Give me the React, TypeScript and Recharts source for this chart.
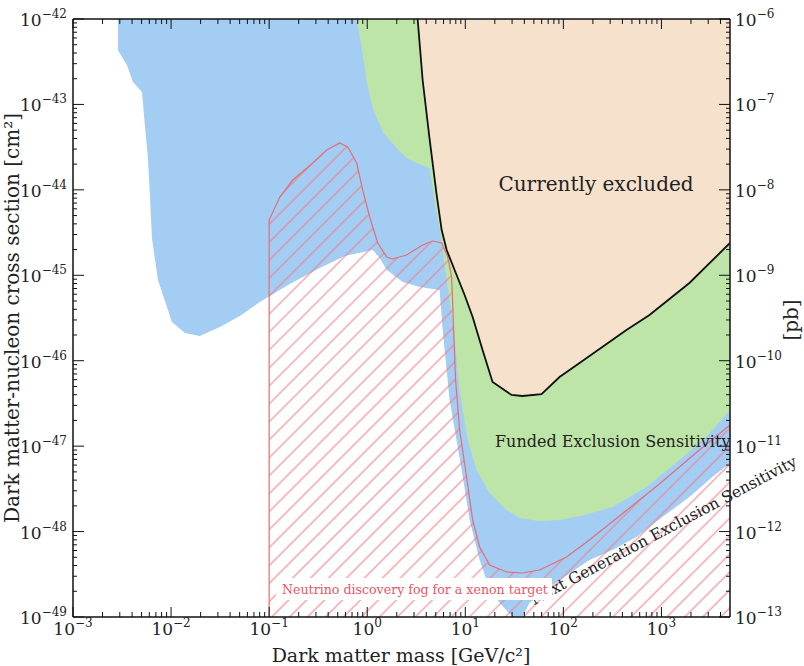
import { Area, ComposedChart, XAxis, YAxis } from "recharts";

const W = 804;
const H = 666;
const FONT = '"DejaVu Serif", serif';

// every curve is a list of [log10(mass / GeV), log10(sigma / cm^2)]
const nextGenSensitivity: [number, number][] = [
  [-2.542, -42.363], [-2.45, -42.538], [-2.389, -42.737], [-2.297, -42.854], [-2.267, -43.241],
  [-2.236, -43.627], [-2.216, -44.06], [-2.195, -44.563], [-2.134, -45.055], [-2.083, -45.231],
  [-1.992, -45.547], [-1.859, -45.676], [-1.706, -45.711], [-1.503, -45.605], [-1.299, -45.476],
  [-1.095, -45.313], [-0.79, -45.102], [-0.484, -44.915], [-0.229, -44.774], [0.056, -44.704],
  [0.127, -44.798], [0.199, -44.938], [0.362, -45.079], [0.535, -45.137], [0.738, -45.172],
  [0.769, -45.64], [0.84, -46.459], [0.963, -47.279], [1.044, -47.864], [1.146, -48.332],
  [1.217, -48.567], [1.35, -48.836], [1.482, -49.0], [1.58, -49.0], [1.655, -48.836],
  [1.859, -48.649], [2.266, -48.332], [2.501, -48.216], [2.745, -48.063], [3.01, -47.829],
  [3.285, -47.595], [3.519, -47.361], [3.699, -47.197],
];

const fundedSensitivity: [number, number][] = [
  [-0.107, -42.0], [-0.056, -42.339], [-0.005, -42.737], [0.056, -43.042], [0.158, -43.323],
  [0.3, -43.51], [0.402, -43.627], [0.504, -43.686], [0.637, -43.744], [0.708, -44.271],
  [0.759, -44.587], [0.81, -45.055], [0.861, -45.441], [0.891, -45.758], [0.942, -46.343],
  [1.024, -46.928], [1.115, -47.279], [1.248, -47.548], [1.421, -47.747], [1.553, -47.841],
  [1.757, -47.876], [1.961, -47.864], [2.215, -47.806], [2.501, -47.712], [2.847, -47.478],
  [3.183, -47.162], [3.458, -46.893], [3.699, -46.577],
];

const currentLimit: [number, number][] = [
  [0.514, -42.0], [0.565, -42.714], [0.637, -43.416], [0.708, -44.06], [0.759, -44.47],
  [0.81, -44.704], [0.891, -44.938], [0.993, -45.231], [1.075, -45.488], [1.176, -45.875],
  [1.278, -46.249], [1.472, -46.401], [1.584, -46.413], [1.777, -46.39], [1.961, -46.191],
  [2.165, -46.027], [2.643, -45.64], [2.878, -45.465], [3.285, -45.09], [3.699, -44.622],
];

const neutrinoFog: [number, number][] = [
  [-1, -49], [-1, -44.353], [-0.891, -44.084], [-0.759, -43.885], [-0.555, -43.686],
  [-0.413, -43.533], [-0.28, -43.452], [-0.199, -43.498], [-0.107, -43.686], [-0.046, -44.002],
  [0.025, -44.318], [0.107, -44.622], [0.199, -44.786], [0.26, -44.809], [0.402, -44.762],
  [0.565, -44.645], [0.667, -44.599], [0.759, -44.622], [0.82, -44.786], [0.861, -45.02],
  [0.871, -45.324], [0.881, -45.64], [0.901, -46.226], [0.942, -46.811], [1.003, -47.279],
  [1.075, -47.864], [1.146, -48.18], [1.248, -48.391], [1.421, -48.473], [1.584, -48.485],
  [1.757, -48.45], [2.032, -48.298], [2.266, -48.099], [2.572, -47.818], [2.979, -47.443],
  [3.387, -47.045], [3.699, -46.753],
];

const X_MIN = -3;
const X_MAX = Math.log10(5000);
const Y_MIN = -49;
const Y_MAX = -42;
const xDecades = [-3, -2, -1, 0, 1, 2, 3];
const yDecades = [-49, -48, -47, -46, -45, -44, -43, -42];
const PB_SHIFT = 36; // 1 pb = 1e-36 cm^2

const minorTicks = (from: number, to: number) => {
  const out: number[] = [];
  for (let n = from; n < to; n++) {
    for (let k = 2; k <= 9; k++) {
      const v = n + Math.log10(k);
      if (v < to - 1e-6) out.push(v);
    }
  }
  return out;
};
const xTicks = [...xDecades, ...minorTicks(X_MIN, X_MAX)].sort((a, b) => a - b);
const yTicks = [...yDecades, ...minorTicks(Y_MIN, Y_MAX)].sort((a, b) => a - b);

type Row = { x: number; nextGen?: number; funded?: number; current?: number; fog?: number };
const rows: Row[] = [];
const series: Record<string, [number, number][]> = {
  nextGen: nextGenSensitivity,
  funded: fundedSensitivity,
  current: currentLimit,
  fog: neutrinoFog,
};
Object.entries(series).forEach(([key, pts]) => pts.forEach(([x, y]) => rows.push({ x, [key]: y })));
rows.sort((a, b) => a.x - b.x);

const isDecade = (v: number) => Math.abs(v - Math.round(v)) < 1e-6;
const expText = (n: number) => String(n).replace("-", "\u2212");

function BottomTick({ x, y, payload }: any) {
  const major = isDecade(payload.value);
  return (
    <g>
      <line x1={x} x2={x} y1={y} y2={y - (major ? 10 : 5)} stroke="#111" />
      {major && (
        <text x={x} y={y + 18} textAnchor="middle" fontFamily={FONT} fontSize={17} fill="#222">
          10<tspan dy={-8} fontSize={12}>{expText(Math.round(payload.value))}</tspan>
        </text>
      )}
    </g>
  );
}

function TopTick({ x, y, payload }: any) {
  const major = isDecade(payload.value);
  return <line x1={x} x2={x} y1={y} y2={y + (major ? 10 : 5)} stroke="#111" />;
}

function LeftTick({ x, y, payload }: any) {
  const major = isDecade(payload.value);
  return (
    <g>
      <line x1={x} x2={x + (major ? 11 : 4)} y1={y} y2={y} stroke="#111" />
      {major && (
        <text x={x - 6} y={y + 7} textAnchor="end" fontFamily={FONT} fontSize={17} fill="#222">
          10<tspan dy={-8} fontSize={12}>{expText(Math.round(payload.value))}</tspan>
        </text>
      )}
    </g>
  );
}

function RightTick({ x, y, payload }: any) {
  const major = isDecade(payload.value);
  return (
    <g>
      <line x1={x} x2={x - (major ? 11 : 4)} y1={y} y2={y} stroke="#111" />
      {major && (
        <text x={x + 5} y={y + 7} textAnchor="start" fontFamily={FONT} fontSize={17} fill="#222">
          10<tspan dy={-8} fontSize={12}>{expText(Math.round(payload.value) + PB_SHIFT)}</tspan>
        </text>
      )}
    </g>
  );
}

const axisLine = { stroke: "#111", strokeWidth: 1.5 };

export default function App() {
  return (
    <div style={{ position: "absolute", left: 0, top: 0, width: W, height: H, background: "#fff" }}>
      <svg width={0} height={0} style={{ position: "absolute" }}>
        <defs>
          <pattern id="fogHatch" patternUnits="userSpaceOnUse" width={12.7} height={12.7} patternTransform="rotate(45)">
            <line x1={6} y1={0} x2={6} y2={12.7} stroke="#ee7a82" strokeWidth={1} />
          </pattern>
        </defs>
      </svg>
      <ComposedChart width={W} height={H} data={rows} margin={{ top: 0, right: 0, bottom: 0, left: 0 }}>
        <Area dataKey="nextGen" type="linear" baseValue={Y_MAX} fill="#a4cdf4" fillOpacity={1} stroke="none"
          connectNulls dot={false} activeDot={false} isAnimationActive={false} />
        <Area dataKey="funded" type="linear" baseValue={Y_MAX} fill="#bee5a8" fillOpacity={1} stroke="none"
          connectNulls dot={false} activeDot={false} isAnimationActive={false} />
        <Area dataKey="fog" type="linear" baseValue={Y_MIN} fill="url(#fogHatch)" fillOpacity={1} stroke="#e26d78"
          strokeWidth={1.2} connectNulls dot={false} activeDot={false} isAnimationActive={false} />
        <Area dataKey="current" type="linear" baseValue={Y_MAX} fill="#f5e1cc" fillOpacity={1} stroke="#111"
          strokeWidth={1.8} connectNulls dot={false} activeDot={false} isAnimationActive={false} />
        <XAxis dataKey="x" type="number" domain={[X_MIN, X_MAX]} allowDataOverflow ticks={xTicks} interval={0}
          height={49} tickSize={0} tickMargin={0} tickLine={false} axisLine={axisLine} tick={BottomTick} />
        <XAxis xAxisId="top" orientation="top" dataKey="x" type="number" domain={[X_MIN, X_MAX]} allowDataOverflow
          ticks={xTicks} interval={0} height={19} tickSize={0} tickMargin={0} tickLine={false} axisLine={axisLine}
          tick={TopTick} />
        <YAxis type="number" domain={[Y_MIN, Y_MAX]} allowDataOverflow ticks={yTicks} interval={0} width={73}
          tickSize={0} tickMargin={0} tickLine={false} axisLine={axisLine} tick={LeftTick} />
        <YAxis yAxisId="right" orientation="right" type="number" domain={[Y_MIN, Y_MAX]} allowDataOverflow
          ticks={yTicks} interval={0} width={74} tickSize={0} tickMargin={0} tickLine={false} axisLine={axisLine}
          tick={RightTick} />
      </ComposedChart>
      <svg width={W} height={H} style={{ position: "absolute", left: 0, top: 0, pointerEvents: "none" }}
        fontFamily={FONT}>
        <text x={596} y={191} textAnchor="middle" fontSize={20} fill="#222">Currently excluded</text>
        <text x={495} y={447} fontSize={16} fill="#222">Funded Exclusion Sensitivity</text>
        <text x={666} y={535} textAnchor="middle" fontSize={15.5} fill="#222" transform="rotate(-28 666 535)">
          Next Generation Exclusion Sensitivity
        </text>
        <rect x={276} y={578} width={276} height={22} fill="#fff" />
        <text x={282} y={594} fontSize={12.6} fill="#ec5562">Neutrino discovery fog for a xenon target</text>
        <text x={401} y={662} textAnchor="middle" fontSize={19} fill="#222">Dark matter mass [GeV/c²]</text>
        <text x={19} y={318} textAnchor="middle" fontSize={20} fill="#222" transform="rotate(-90 19 318)">
          Dark matter-nucleon cross section [cm²]
        </text>
        <text x={798} y={320} textAnchor="middle" fontSize={20} fill="#222" transform="rotate(-90 798 320)">[pb]</text>
      </svg>
    </div>
  );
}
